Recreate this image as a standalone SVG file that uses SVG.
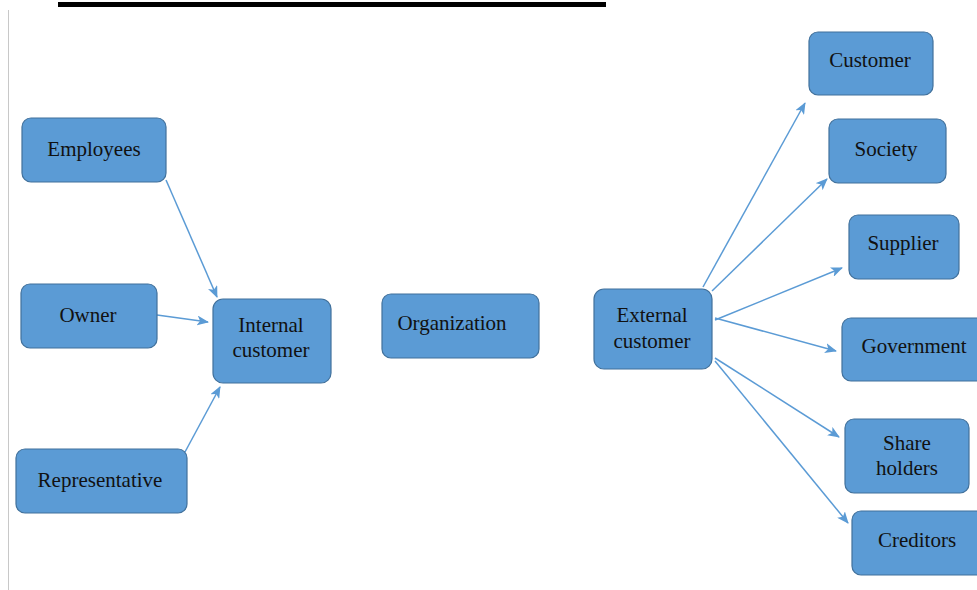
<svg xmlns="http://www.w3.org/2000/svg" width="977" height="590" viewBox="0 0 977 590">
<defs>
<style>
.box{fill:#5B9BD5;stroke:#41719C;stroke-width:1.2}
.t{font-family:"Liberation Serif","Times New Roman",serif;font-size:21px;fill:#111;text-anchor:middle}
.c{stroke:#5B9BD5;stroke-width:1.5;fill:none;marker-end:url(#ah)}
</style>
<marker id="ah" viewBox="0 0 12 10" refX="11" refY="5" markerWidth="12" markerHeight="10" markerUnits="userSpaceOnUse" orient="auto">
<path d="M0,0 L12,5 L0,10 L3,5 Z" fill="#5B9BD5"/>
</marker>
</defs>
<rect width="977" height="590" fill="#fff"/>
<rect x="58" y="2" width="548" height="5" fill="#000"/>
<line x1="8.5" y1="10" x2="8.5" y2="590" stroke="#c8c8c8" stroke-width="1"/>
<g id="connectors">
<line class="c" x1="166" y1="180" x2="217" y2="297"/>
<line class="c" x1="157" y1="315" x2="208" y2="322"/>
<line class="c" x1="185" y1="452" x2="220" y2="387"/>
<line class="c" x1="703" y1="287" x2="805" y2="103"/>
<line class="c" x1="712" y1="291" x2="827" y2="179"/>
<line class="c" x1="715" y1="320" x2="842" y2="268"/>
<line class="c" x1="715" y1="318" x2="836" y2="351"/>
<line class="c" x1="715" y1="358" x2="839" y2="437"/>
<line class="c" x1="715" y1="361" x2="848" y2="523"/>
</g>
<g id="employees"><rect class="box" x="22" y="118" width="144" height="64" rx="9"/><text class="t" x="94" y="156">Employees</text></g>
<g id="owner"><rect class="box" x="21" y="284" width="136" height="64" rx="9"/><text class="t" x="88" y="322">Owner</text></g>
<g id="representative"><rect class="box" x="16" y="449" width="171" height="64" rx="9"/><text class="t" x="100" y="487">Representative</text></g>
<g id="internal"><rect class="box" x="213" y="299" width="118" height="84" rx="10"/><text class="t" x="271" y="332">Internal</text><text class="t" x="271" y="357">customer</text></g>
<g id="organization"><rect class="box" x="382" y="294" width="157" height="64" rx="9"/><text class="t" x="452" y="330">Organization</text></g>
<g id="external"><rect class="box" x="594" y="289" width="118" height="80" rx="10"/><text class="t" x="652" y="322">External</text><text class="t" x="652" y="348">customer</text></g>
<g id="customer"><rect class="box" x="809" y="32" width="124" height="63" rx="9"/><text class="t" x="870" y="67">Customer</text></g>
<g id="society"><rect class="box" x="829" y="119" width="117" height="64" rx="9"/><text class="t" x="886" y="156">Society</text></g>
<g id="supplier"><rect class="box" x="849" y="215" width="110" height="64" rx="9"/><text class="t" x="903" y="250">Supplier</text></g>
<g id="government"><rect class="box" x="842" y="318" width="145" height="63" rx="9"/><text class="t" x="914" y="353">Government</text></g>
<g id="shareholders"><rect class="box" x="845" y="419" width="124" height="74" rx="9"/><text class="t" x="907" y="450">Share</text><text class="t" x="907" y="475">holders</text></g>
<g id="creditors"><rect class="box" x="852" y="511" width="135" height="64" rx="9"/><text class="t" x="917" y="547">Creditors</text></g>
</svg>
